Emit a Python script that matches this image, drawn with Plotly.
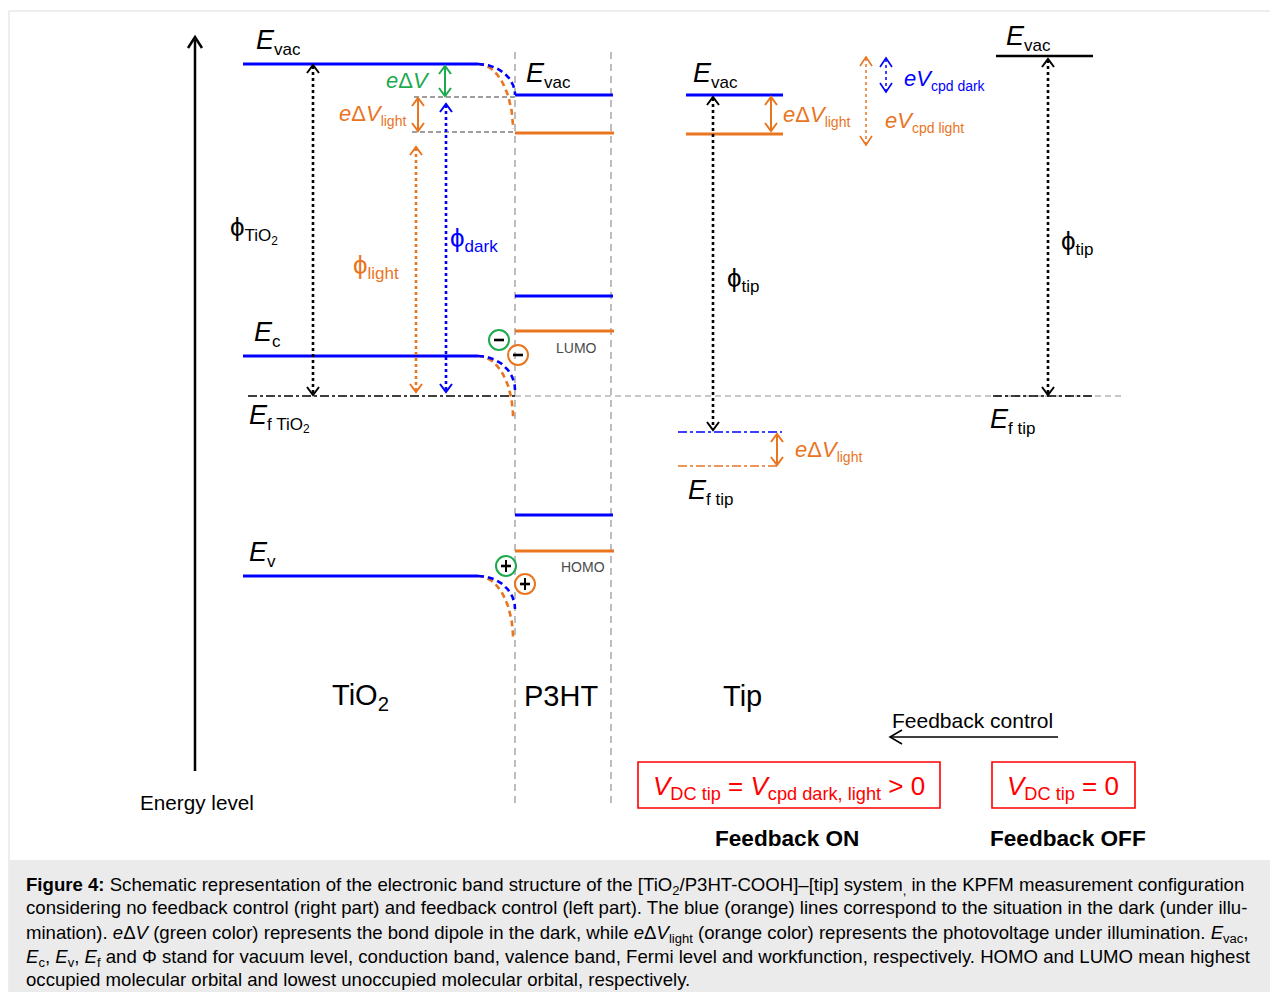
import numpy as np
import plotly.graph_objects as go

BLUE = "#0000ff"
ORANGE = "#e9751f"
GREEN = "#1daa4f"
BLACK = "#000000"
GRAY = "#a8a8a8"
DGRAY = "#7f7f7f"
RED = "#ff0000"
FONT = "Liberation Sans, Arial, sans-serif"

# ---------------- schematic data (figure units, y grows downward) ----------------
TIO2_X = [243, 478]
TIO2_LEVELS = [64, 356, 576]          # Evac, Ec, Ev
TIO2_BEND_DARK = [95, 390, 609]       # end of band bending in the dark
TIO2_BEND_LIGHT = [129, 417, 638]     # end of band bending under light
INTERFACE_X = [515, 611]              # P3HT layer borders
P3HT_DARK = [95, 296, 515]            # Evac, LUMO, HOMO (dark)
P3HT_LIGHT = [133, 331, 551]          # Evac, LUMO, HOMO (light)
EF_TIO2 = 396
TIP_ON_X = [686, 783]
TIP_ON_EVAC = [95, 134]               # dark, light
TIP_ON_EF = [432, 466]                # dark, light
TIP_OFF_X = [996, 1093]
TIP_OFF_EVAC = 56
TIP_OFF_EF = 396

fig = go.Figure()


def line(xs, ys, color, width=3, dash="solid"):
    fig.add_trace(go.Scatter(x=xs, y=ys, mode="lines",
                             line=dict(color=color, width=width, dash=dash),
                             hoverinfo="skip", showlegend=False))


def chevron(x, y, direction, color, width=2, s=6, h=8):
    if direction == "up":
        line([x - s, x, x + s], [y + h, y, y + h], color, width)
    elif direction == "down":
        line([x - s, x, x + s], [y - h, y, y - h], color, width)
    elif direction == "left":
        line([x + h, x, x + h], [y - s, y, y + s], color, width)


def darrow(x, y0, y1, color, width=2, dash="solid", s=6, h=8, hw=2):
    line([x, x], [y0 + 1, y1 - 1], color, width, dash)
    chevron(x, y0, "up", color, hw, s, h)
    chevron(x, y1, "down", color, hw, s, h)


def bend(x0, y0, x1, y1, color):
    t = np.linspace(0, np.pi / 2, 40)
    xs = x0 + (x1 - x0) * np.sin(t)
    ys = y0 + (y1 - y0) * (1 - np.cos(t))
    line(xs, ys, color, 2.6, "6px,4px")


def txt(x, y, s, size=20, color=BLACK, xa="left", ya="middle"):
    fig.add_annotation(x=x, y=y, text=s, showarrow=False, xanchor=xa, yanchor=ya,
                       font=dict(family=FONT, size=size, color=color))


def sub(s, px):
    return '<sub><span style="font-size:%dpx">%s</span></sub>' % (px, s)


# frame + caption background
fig.add_shape(type="rect", x0=9, y0=11, x1=1280, y1=1000, line=dict(color="#dcdcdc", width=1),
              fillcolor="white", layer="below")
fig.add_shape(type="rect", x0=9, y0=860, x1=1280, y1=1000, line=dict(width=0),
              fillcolor="#ebebeb", layer="below")

# P3HT borders
for xb in INTERFACE_X:
    line([xb, xb], [52, 806], GRAY, 1.5, "7px,5px")

# Fermi level (TiO2) and reference
line([INTERFACE_X[0], 1122], [EF_TIO2, EF_TIO2], "#b5b5b5", 1.5, "6px,4px")
line([248, INTERFACE_X[0]], [EF_TIO2, EF_TIO2], BLACK, 1.6, "dashdot")
line([TIP_OFF_X[0] - 3, TIP_OFF_X[1] + 2], [TIP_OFF_EF, TIP_OFF_EF], BLACK, 1.6, "dashdot")

# dipole reference lines
line([414, INTERFACE_X[0]], [97, 97], DGRAY, 1.4, "5px,3px")
line([412, INTERFACE_X[0]], [132, 132], DGRAY, 1.4, "5px,3px")

# TiO2 bands
for i, y in enumerate(TIO2_LEVELS):
    line(TIO2_X, [y, y], BLUE, 3)
    bend(TIO2_X[1], y, INTERFACE_X[0] - 2, TIO2_BEND_LIGHT[i], ORANGE)
    bend(TIO2_X[1], y, INTERFACE_X[0], TIO2_BEND_DARK[i], BLUE)

# P3HT levels
for y in P3HT_DARK:
    line([INTERFACE_X[0], INTERFACE_X[1] + 2], [y, y], BLUE, 3)
for y in P3HT_LIGHT:
    line([INTERFACE_X[0], INTERFACE_X[1] + 3], [y, y], ORANGE, 3)

# tip (feedback ON)
line(TIP_ON_X, [TIP_ON_EVAC[0]] * 2, BLUE, 3)
line(TIP_ON_X, [TIP_ON_EVAC[1]] * 2, ORANGE, 3)
line([678, 782], [TIP_ON_EF[0]] * 2, BLUE, 1.5, "dashdot")
line([678, 780], [TIP_ON_EF[1]] * 2, ORANGE, 1.5, "dashdot")

# tip (feedback OFF)
line(TIP_OFF_X, [TIP_OFF_EVAC] * 2, BLACK, 2.5)

# energy axis
line([195, 195], [771, 40], BLACK, 2.5)
chevron(195, 37, "up", BLACK, 2.5, 7, 11)

# double arrows
darrow(445, 66, 96, GREEN, 2)
darrow(418, 98, 131, ORANGE, 2)
darrow(313, 65, 395, BLACK, 2.6, "dot")
darrow(416, 147, 392, ORANGE, 2.6, "dot")
darrow(446, 104, 392, BLUE, 2.6, "dot")
darrow(713, 97, 430, BLACK, 2.6, "dot")
darrow(771, 97, 131, ORANGE, 2)
darrow(777, 434, 465, ORANGE, 2)
darrow(866, 57, 145, ORANGE, 1.5, "dot", 6, 9, 1.6)
darrow(886, 58, 92, BLUE, 1.5, "dot", 6, 9, 1.6)
darrow(1048, 59, 395, BLACK, 2.6, "dot")

# feedback control arrow
line([890, 1058], [737, 737], BLACK, 1.5)
chevron(890, 737, "left", BLACK, 1.6, 7, 12)

# charges
for cx, cy, col, sign in [(499, 340, GREEN, "-"), (518, 355, ORANGE, "-"),
                          (506, 566, GREEN, "+"), (525, 584, ORANGE, "+")]:
    fig.add_shape(type="circle", x0=cx - 10, x1=cx + 10, y0=cy - 10, y1=cy + 10,
                  line=dict(color=col, width=2))
    line([cx - 5, cx + 5], [cy, cy], BLACK, 2.6)
    if sign == "+":
        line([cx, cx], [cy - 6, cy + 6], BLACK, 2)

# red boxes
fig.add_shape(type="rect", x0=638, x1=940, y0=762, y1=808, line=dict(color=RED, width=1.6))
fig.add_shape(type="rect", x0=992, x1=1135, y0=762, y1=808, line=dict(color=RED, width=1.6))

# ---------------- labels ----------------
EV = "<i>E</i>" + sub("vac", 17)
txt(254, 42, EV, 27)
txt(524, 75, EV, 27)
txt(691, 75, EV, 27)
txt(1004, 38, EV, 27)
txt(252, 334, "<i>E</i>" + sub("c", 17), 27)
txt(247, 418, "<i>E</i>" + sub("f TiO<sub>2</sub>", 17), 27)
txt(247, 554, "<i>E</i>" + sub("v", 17), 27)
txt(686, 492, "<i>E</i>" + sub("f tip", 17), 27)
txt(988, 421, "<i>E</i>" + sub("f tip", 17), 27)

txt(432, 80, "<i>e</i>Δ<i>V</i>", 22, GREEN, "right")
txt(337, 115, "<i>e</i>Δ<i>V</i>" + sub("light", 14), 22, ORANGE)
txt(781, 116, "<i>e</i>Δ<i>V</i>" + sub("light", 14), 22, ORANGE)
txt(793, 451, "<i>e</i>Δ<i>V</i>" + sub("light", 14), 22, ORANGE)
txt(902, 80, "<i>eV</i>" + sub("cpd dark", 14), 22, BLUE)
txt(883, 122, "<i>eV</i>" + sub("cpd light", 14), 22, ORANGE)

txt(228, 230, "ϕ" + sub("TiO<sub>2</sub>", 17), 26)
txt(351, 266, "ϕ" + sub("light", 17), 26, ORANGE)
txt(448, 239, "ϕ" + sub("dark", 17), 26, BLUE)
txt(725, 279, "ϕ" + sub("tip", 17), 26)
txt(1059, 242, "ϕ" + sub("tip", 17), 26)

txt(576, 348, "LUMO", 14, "#4a4a4a", "center")
txt(583, 567, "HOMO", 14, "#4a4a4a", "center")

txt(360, 697, "TiO<sub>2</sub>", 29, BLACK, "center")
txt(561, 696, "P3HT", 29, BLACK, "center")
txt(742, 696, "Tip", 29, BLACK, "center")
txt(197, 802, "Energy level", 20.7, BLACK, "center")
txt(972, 720, "Feedback control", 21, BLACK, "center")
txt(789, 787, "<i>V</i><sub>DC tip</sub> = <i>V</i><sub>cpd dark, light</sub> > 0", 26, RED, "center")
txt(1063, 787, "<i>V</i><sub>DC tip</sub> = 0", 26, RED, "center")
txt(787, 838, "<b>Feedback ON</b>", 22.6, BLACK, "center")
txt(1068, 838, "<b>Feedback OFF</b>", 22.6, BLACK, "center")

CAPTION = [
    "<b>Figure 4:</b> Schematic representation of the electronic band structure of the [TiO<sub>2</sub>/P3HT-COOH]–[tip] system<sub>,</sub> in the KPFM measurement configuration",
    "considering no feedback control (right part) and feedback control (left part). The blue (orange) lines correspond to the situation in the dark (under illu-",
    "mination). <i>e</i>Δ<i>V</i> (green color) represents the bond dipole in the dark, while <i>e</i>Δ<i>V</i><sub>light</sub> (orange color) represents the photovoltage under illumination. <i>E</i><sub>vac</sub>,",
    "<i>E</i><sub>c</sub>, <i>E</i><sub>v</sub>, <i>E</i><sub>f</sub> and Φ stand for vacuum level, conduction band, valence band, Fermi level and workfunction, respectively. HOMO and LUMO mean highest",
    "occupied molecular orbital and lowest unoccupied molecular orbital, respectively.",
]
for k, s in enumerate(CAPTION):
    shift = 3 if "<sub>" in s else 0
    txt(24, 883 + 24 * k + shift, s, 18.6, BLACK)

fig.update_layout(
    width=1270, height=992, margin=dict(l=0, r=0, t=0, b=0),
    paper_bgcolor="white", plot_bgcolor="white",
    xaxis=dict(range=[0, 1270], visible=False, fixedrange=True),
    yaxis=dict(range=[992, 0], visible=False, fixedrange=True),
    showlegend=False,
)
fig.write_html("out.html", config={"displayModeBar": False},
               post_script="document.body.style.margin='0';")
